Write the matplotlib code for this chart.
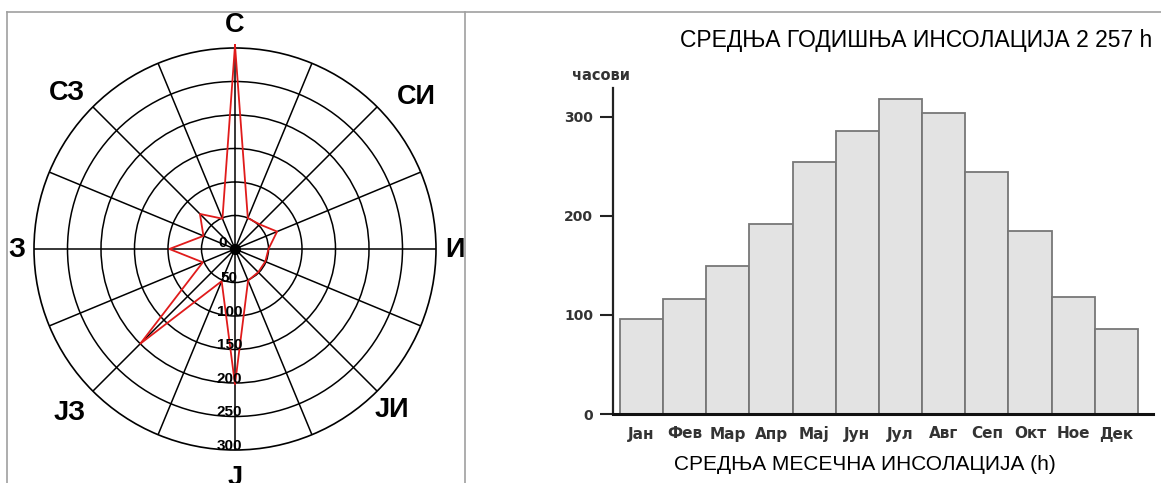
import numpy as np
import matplotlib
matplotlib.use("Agg")
import matplotlib.pyplot as plt
from matplotlib.lines import Line2D

plt.rcParams['font.family'] = ['Liberation Sans', 'DejaVu Sans']

W, H = 1161, 483

# wind rose data (16 directions, clockwise from north)
directions = ['С', 'ССИ', 'СИ', 'ИСИ', 'И', 'ИЈИ', 'ЈИ', 'ЈЈИ',
              'Ј', 'ЈЈЗ', 'ЈЗ', 'ЗЈЗ', 'З', 'ЗСЗ', 'СЗ', 'ССЗ']
wind_values = [304, 50, 52, 68, 50, 49, 49, 51, 202, 52, 200, 52, 98, 51, 74, 49]
ring_ticks = [0, 50, 100, 150, 200, 250, 300]
compass_labels = ['С', 'СИ', 'И', 'ЈИ', 'Ј', 'ЈЗ', 'З', 'СЗ']

# monthly insolation
months = ['Јан', 'Фев', 'Мар', 'Апр', 'Мај', 'Јун', 'Јул', 'Авг', 'Сеп', 'Окт', 'Ное', 'Дек']
hours = [96, 116, 149, 192, 254, 286, 318, 304, 244, 185, 118, 86]
y_ticks = [0, 100, 200, 300]


def fx(px):
    return px / W


def fy(py):
    return 1 - py / H


fig = plt.figure(figsize=(W / 100, H / 100), dpi=100)

# ---------- wind rose ----------
ax = fig.add_axes([fx(34), fy(450), 402 / W, 402 / H], projection='polar')
ax.set_theta_zero_location('N')
ax.set_theta_direction(-1)
ax.set_ylim(0, 300)
angles = np.deg2rad(np.arange(len(directions)) * 22.5)
ax.set_thetagrids(np.rad2deg(angles), labels=[''] * len(angles))
ax.set_rgrids(ring_ticks[1:-1], labels=[''] * (len(ring_ticks) - 2))
ax.grid(True, color='black', linewidth=1.1)
ax.spines['polar'].set_linewidth(1.2)
ax.spines['polar'].set_color('black')

th = np.append(angles, angles[0])
rv = np.append(wind_values, wind_values[0])
ax.plot(th, rv, color='#e01b1b', linewidth=1.3, clip_on=False, zorder=4)
ax.plot(0, 0, 'o', color='black', markersize=7, zorder=5)

for v in ring_ticks:
    off = (-9, 4) if v == 0 else (-4, 3)
    ax.annotate(str(v), xy=(np.pi, v), xytext=off, textcoords='offset points',
                ha='center', va='center', fontsize=11, fontweight='bold',
                color='black', zorder=6, annotation_clip=False)

compass_pos = [(235, 25), (416, 97), (455, 250), (392, 410),
               (235, 478), (70, 413), (17, 250), (67, 93)]
for lab, (px, py) in zip(compass_labels, compass_pos):
    fig.text(fx(px), fy(py), lab, ha='center', va='center',
             fontsize=19.5, fontweight='bold', color='black')

# ---------- bar chart ----------
bx = fig.add_axes([fx(613), fy(414), (1153 - 613) / W, (414 - 88) / H])
x = np.arange(len(months))
bx.bar(x, hours, width=1.0, color='#e3e3e3', edgecolor='#777777', linewidth=1.3)
bx.set_xlim(-0.66, 11.85)
bx.set_ylim(0, 329)
bx.set_xticks(x)
bx.set_xticklabels(months, fontsize=11, fontweight='bold', color='#333333',
                   family='DejaVu Sans')
bx.set_yticks(y_ticks)
bx.set_yticklabels([str(t) for t in y_ticks], fontsize=10, fontweight='bold',
                   color='#333333', family='DejaVu Sans')
bx.tick_params(axis='x', length=0, pad=9)
bx.tick_params(axis='y', length=9.4, width=1.5, pad=5, color='#222222')
for s in ['top', 'right']:
    bx.spines[s].set_visible(False)
bx.spines['left'].set_linewidth(1.6)
bx.spines['left'].set_color('#222222')
bx.spines['bottom'].set_linewidth(2.2)
bx.spines['bottom'].set_color('#111111')

fig.text(fx(601), fy(75), 'часови', ha='center', va='center', family='DejaVu Sans',
         fontsize=10.5, fontweight='bold', color='#333333')
fig.text(fx(1152), fy(40), 'СРЕДЊА ГОДИШЊА ИНСОЛАЦИЈА 2 257 h', ha='right', va='center',
         fontsize=16.5, color='black')
fig.text(fx(865), fy(465), 'СРЕДЊА МЕСЕЧНА ИНСОЛАЦИЈА (h)', ha='center', va='center',
         fontsize=15, color='black')

# frame lines
frame_kw = dict(color='#a0a0a0', linewidth=1.2, transform=fig.transFigure)
fig.add_artist(Line2D([fx(7), 1], [fy(12), fy(12)], **frame_kw))
fig.add_artist(Line2D([fx(7), fx(7)], [fy(12), 0], **frame_kw))
fig.add_artist(Line2D([fx(465), fx(465)], [fy(12), 0], **frame_kw))

fig.savefig('out.png', dpi=100)
